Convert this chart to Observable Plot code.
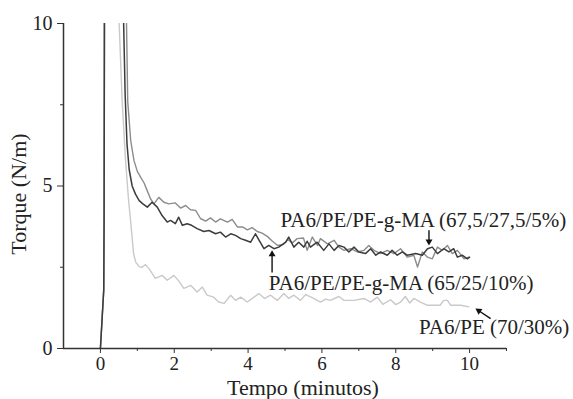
<!DOCTYPE html>
<html>
<head>
<meta charset="utf-8">
<script src="https://cdn.jsdelivr.net/npm/d3@7"></script>
<script src="https://cdn.jsdelivr.net/npm/@observablehq/plot@0.6"></script>
<style>
  html, body { margin: 0; padding: 0; background: #fff; }
  #chart { width: 573px; height: 399px; }
</style>
</head>
<body>
<div id="chart"></div>
<script>
// Initial torque spike shared by all mixtures (time in minutes, torque in N/m)
const spikeTempo  = [0, 0.05, 0.09, 0.10, 0.11];
const spikeTorque = [0, 1.0, 1.8, 4.0, 11];

// PA6/PE (70/30%) — light gray
const tempoPE = [0.49, 0.59, 0.68, 0.76, 0.82, 0.86, 0.90, 0.96, 1.05, 1.13, 1.22, 1.32, 1.49, 1.67, 1.81, 1.99, 2.12, 2.26, 2.45, 2.62, 2.76, 2.89, 3.07, 3.20, 3.35, 3.53, 3.66, 3.80, 3.98, 4.16, 4.29, 4.45, 4.61, 4.79, 4.97, 5.10, 5.24, 5.42, 5.56, 5.75, 5.96, 6.10, 6.23, 6.46, 6.60, 6.87, 7.14, 7.32, 7.50, 7.65, 7.86, 8.00, 8.13, 8.26, 8.38, 8.49, 8.67, 8.86, 9.03, 9.20, 9.30, 9.40, 9.49, 9.76, 9.98];
const torquePE = [10.5, 7.6, 5.8, 4.6, 3.9, 3.4, 2.9, 2.65, 2.52, 2.5, 2.58, 2.45, 2.16, 2.25, 2.1, 2.25, 2.08, 1.85, 1.94, 1.74, 1.89, 1.64, 1.58, 1.43, 1.39, 1.64, 1.48, 1.58, 1.43, 1.58, 1.69, 1.54, 1.64, 1.48, 1.69, 1.54, 1.64, 1.48, 1.66, 1.56, 1.43, 1.52, 1.48, 1.6, 1.48, 1.48, 1.54, 1.43, 1.58, 1.36, 1.5, 1.35, 1.43, 1.6, 1.4, 1.54, 1.43, 1.33, 1.33, 1.33, 1.48, 1.48, 1.33, 1.33, 1.28];

// PA6/PE/PE-g-MA (67,5/27,5/5%) — medium gray
const tempoMA5 = [0.70, 0.74, 0.82, 0.91, 1.00, 1.10, 1.18, 1.27, 1.36, 1.45, 1.58, 1.72, 1.85, 2.03, 2.17, 2.31, 2.44, 2.58, 2.71, 2.85, 2.98, 3.12, 3.25, 3.44, 3.57, 3.71, 3.85, 3.98, 4.11, 4.25, 4.38, 4.52, 4.66, 4.80, 4.95, 5.08, 5.20, 5.33, 5.50, 5.60, 5.74, 5.88, 5.96, 6.15, 6.33, 6.46, 6.60, 6.78, 6.96, 7.14, 7.27, 7.41, 7.59, 7.77, 7.95, 8.13, 8.31, 8.49, 8.59, 8.72, 8.86, 8.99, 9.13, 9.26, 9.40, 9.53, 9.67, 9.85, 9.98];
const torqueMA5 = [10.5, 7.6, 6.4, 5.78, 5.45, 5.25, 5.1, 4.85, 4.6, 4.45, 4.65, 4.5, 4.45, 4.48, 4.32, 4.4, 4.27, 4.25, 4.0, 3.92, 4.02, 3.89, 3.99, 3.89, 3.97, 3.74, 3.74, 3.65, 3.72, 3.6, 3.55, 3.45, 3.3, 3.17, 3.2, 3.35, 3.25, 3.38, 3.4, 3.02, 3.43, 3.17, 3.38, 3.22, 3.33, 3.12, 3.02, 3.07, 2.97, 3.02, 3.17, 3.02, 2.92, 3.02, 2.92, 3.07, 2.81, 2.87, 2.51, 2.97, 2.81, 2.76, 3.12, 3.02, 3.17, 2.92, 3.02, 2.76, 2.81];

// PA6/PE/PE-g-MA (65/25/10%) — dark gray
const tempoMA10 = [0.62, 0.67, 0.72, 0.78, 0.86, 0.95, 1.05, 1.15, 1.27, 1.40, 1.54, 1.67, 1.81, 1.90, 2.03, 2.12, 2.22, 2.35, 2.47, 2.62, 2.80, 2.94, 3.12, 3.25, 3.39, 3.53, 3.66, 3.80, 3.93, 4.07, 4.20, 4.30, 4.43, 4.56, 4.70, 4.83, 5.02, 5.10, 5.24, 5.37, 5.51, 5.60, 5.69, 5.87, 6.05, 6.19, 6.33, 6.46, 6.60, 6.73, 6.87, 7.00, 7.18, 7.32, 7.46, 7.59, 7.77, 7.90, 8.04, 8.18, 8.31, 8.54, 8.72, 8.86, 8.99, 9.13, 9.30, 9.44, 9.57, 9.67, 9.80, 9.94, 10.0];
const torqueMA10 = [10.5, 7.8, 6.3, 5.5, 5.0, 4.75, 4.55, 4.45, 4.35, 4.5, 4.35, 4.09, 3.89, 3.94, 3.84, 4.04, 3.79, 3.84, 3.79, 3.69, 3.6, 3.63, 3.53, 3.58, 3.43, 3.53, 3.48, 3.38, 3.33, 3.27, 3.53, 3.33, 3.07, 3.17, 3.07, 3.12, 3.27, 3.43, 3.12, 3.27, 3.12, 3.3, 3.12, 3.27, 3.02, 3.22, 3.02, 3.17, 3.12, 2.97, 3.12, 2.97, 2.92, 3.07, 2.87, 2.97, 2.87, 3.02, 2.87, 2.97, 2.87, 2.92, 2.87, 3.07, 3.12, 2.92, 3.07, 2.97, 3.07, 2.81, 2.87, 2.76, 2.81];

// Axis ticks
const xMajorTicks = [0, 2, 4, 6, 8, 10];
const xMinorTicks = [1, 3, 5, 7, 9, 11];
const yMajorTicks = [0, 5, 10];
const yMinorTicks = [2.5, 7.5];

// Annotations
const labelTexts = ["PA6/PE/PE-g-MA (67,5/27,5/5%)", "PA6/PE/PE-g-MA (65/25/10%)", "PA6/PE (70/30%)"];
const labelX = [4.88, 4.56, 8.63];
const labelY = [3.73, 1.79, 0.45];
const arrowX1 = [8.90, 4.65, 10.57];
const arrowY1 = [3.64, 2.34, 0.92];
const arrowX2 = [8.90, 4.65, 10.16];
const arrowY2 = [3.17, 3.02, 1.23];
const arrowHeadFrac = [0.74, 0.82, 0.78];
const arrowRotate = [180, 0, -56];

const colors = {PE: "#c9c9c9", MA5: "#8c8c8c", MA10: "#3c3c3c"};

function buildSeries(key, t, v) {
  const rows = spikeTempo.map((x, i) => ({serie: key, tempo: x, torque: spikeTorque[i]}));
  t.forEach((x, i) => rows.push({serie: key, tempo: x, torque: v[i]}));
  return rows;
}
const dataPE = buildSeries("PE", tempoPE, torquePE);
const dataMA5 = buildSeries("MA5", tempoMA5, torqueMA5);
const dataMA10 = buildSeries("MA10", tempoMA10, torqueMA10);

const arrows = arrowX1.map((x1, i) => {
  const f = arrowHeadFrac[i];
  const hx = x1 + (arrowX2[i] - x1) * f;
  const hy = arrowY1[i] + (arrowY2[i] - arrowY1[i]) * f;
  return {x1, y1: arrowY1[i], hx, hy, rot: arrowRotate[i]};
});
const labels = labelTexts.map((t, i) => ({t, x: labelX[i], y: labelY[i]}));

const FONT = "'Liberation Serif', 'Times New Roman', serif";

const chart = Plot.plot({
  width: 573,
  height: 399,
  marginLeft: 63,
  marginRight: 67,
  marginTop: 23,
  marginBottom: 51,
  style: {fontFamily: FONT, color: "#222", background: "#fff", overflow: "visible"},
  x: {domain: [-1, 11], label: null},
  y: {domain: [0, 10], label: null},
  marks: [
    Plot.line(dataPE, {x: "tempo", y: "torque", stroke: colors.PE, strokeWidth: 1.4, clip: true}),
    Plot.line(dataMA5, {x: "tempo", y: "torque", stroke: colors.MA5, strokeWidth: 1.4, clip: true}),
    Plot.line(dataMA10, {x: "tempo", y: "torque", stroke: colors.MA10, strokeWidth: 1.5, clip: true}),
    Plot.ruleY([0], {stroke: "#333", strokeWidth: 1.5}),
    Plot.ruleX([-1], {stroke: "#333", strokeWidth: 1.5}),
    Plot.axisX(xMajorTicks, {tickSize: 5, tickPadding: 3, fontSize: 19, label: null, stroke: "#333", fontFamily: FONT}),
    Plot.axisX(xMinorTicks, {tickSize: 3, tickFormat: () => "", label: null, stroke: "#333"}),
    Plot.axisY(yMajorTicks, {tickSize: 6, tickPadding: 5, fontSize: 20, label: null, stroke: "#333", fontFamily: FONT}),
    Plot.axisY(yMinorTicks, {tickSize: 3, tickFormat: () => "", label: null, stroke: "#333"}),
    Plot.text(["Tempo (minutos)"], {frameAnchor: "bottom", textAnchor: "middle", lineAnchor: "bottom", dx: 18, dy: 46, fontSize: 22, fill: "#222", fontFamily: FONT}),
    Plot.text(["Torque (N/m)"], {frameAnchor: "left", textAnchor: "middle", lineAnchor: "middle", rotate: -90, dx: -45, dy: 8, fontSize: 22, fill: "#222", fontFamily: FONT}),
    Plot.text(labels, {x: "x", y: "y", text: "t", textAnchor: "start", lineAnchor: "bottom", fontSize: 21, fill: "#222", fontFamily: FONT}),
    Plot.link(arrows, {x1: "x1", y1: "y1", x2: "hx", y2: "hy", stroke: "#111", strokeWidth: 1.4}),
    Plot.dot(arrows, {x: "hx", y: "hy", symbol: "triangle", r: 2.6, fill: "#111", stroke: "none", rotate: "rot"})
  ]
});
document.getElementById("chart").appendChild(chart);
</script>
</body>
</html>
